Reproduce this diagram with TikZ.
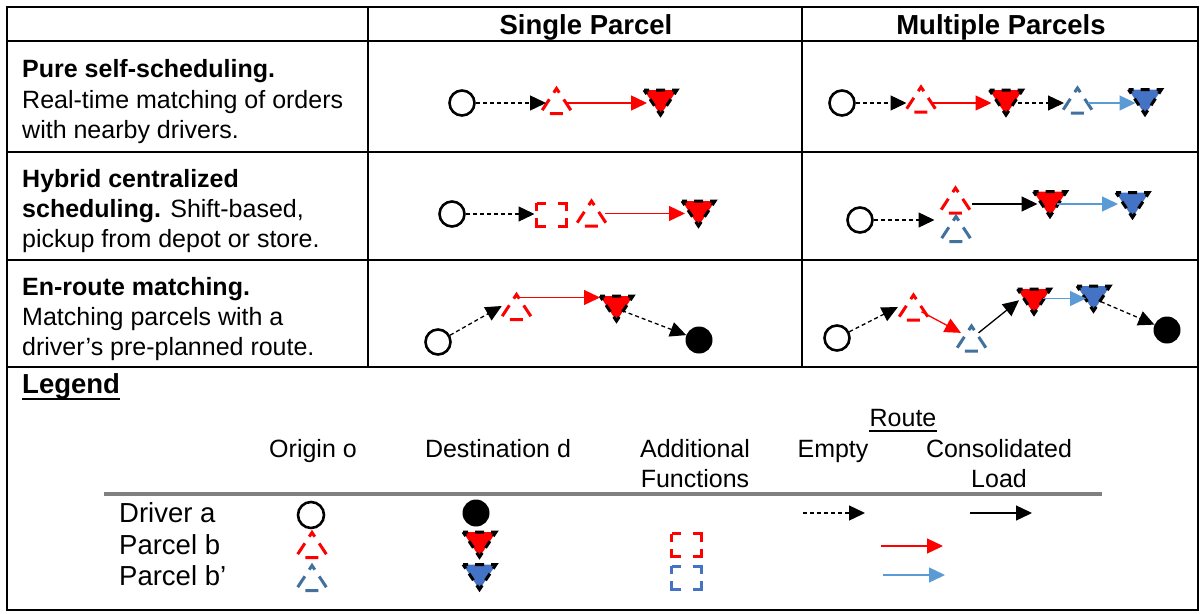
\documentclass[tikz,border=0pt]{standalone}
\usepackage{fontspec}
\setmainfont{Liberation Sans}
\usetikzlibrary{arrows.meta,calc}

\definecolor{pred}{RGB}{255,0,0}
\definecolor{pbluefill}{RGB}{68,114,196}
\definecolor{pblueline}{RGB}{65,113,156}
\definecolor{pbluearrow}{RGB}{91,155,213}
\definecolor{rulegray}{RGB}{128,128,128}

\tikzset{
  grid/.style={line width=2.5pt},
  body/.style={font=\fontsize{25}{30}\selectfont, inner sep=0pt, anchor=base west},
  legtxt/.style={font=\fontsize{25}{30}\selectfont, inner sep=0pt, anchor=base},
  rowtxt/.style={font=\fontsize{27.5}{32}\selectfont, inner sep=0pt, anchor=base west},
  headtxt/.style={font=\fontsize{27.5}{32}\selectfont\bfseries, inner sep=0pt, anchor=base},
  box/.style={inner sep=0pt, outer sep=0pt, minimum width=33pt, minimum height=25pt},
  fnbox/.style={inner sep=0pt, outer sep=0pt, minimum width=30pt, minimum height=23pt},
  drv/.style={circle, draw, line width=2.6pt, inner sep=0pt, minimum size=25pt},
  dst/.style={circle, fill, inner sep=0pt, minimum size=27pt},
  pickupline/.style={line width=3pt, dash pattern=on 13pt off 8pt on 10pt off 8pt on 13pt off 14pt on 13pt off 14pt, dash phase=89pt},
  dropline/.style={draw=black, line width=3pt, dash pattern=on 5pt off 7pt on 9pt off 7pt on 10pt off 6pt on 8pt off 6pt on 10pt off 6pt on 8pt off 6pt on 5pt},
  fnline/.style={line width=3pt, dash pattern=on 9pt off 12pt on 17pt off 7pt on 17pt off 12pt on 17pt off 7pt on 8pt},
  tip/.style={-{Triangle[length=16pt,width=15pt]}},
  empty/.style={tip, black, line width=1.3pt, dash pattern=on 4pt off 3pt},
  load/.style={tip, black, line width=1.3pt},
  redload/.style={tip, pred, line width=1.3pt},
  blueload/.style={tip, pbluearrow, line width=1.3pt},
}

% pickup (hollow dashed triangle), dropoff (filled triangle), depot (dashed box)
\newcommand\pickup[3]{%
  \node[box] (#1) at (#2) {};
  \draw[#3, pickupline] (#1.south west) -- (#1.north) -- (#1.south east) -- cycle;}
\newcommand\dropoff[3]{%
  \node[box] (#1) at (#2) {};
  \draw[fill=#3, dropline] (#1.north west) -- (#1.north east) -- (#1.south) -- cycle;}
\newcommand\depot[3]{%
  \node[fnbox] (#1) at (#2) {};
  \draw[#3, fnline] (#1.north west) -- (#1.north east) -- (#1.south east) -- (#1.south west) -- cycle;}

\begin{document}
\begin{tikzpicture}[x=1pt, y=-1pt]
\useasboundingbox (0,0) rectangle (1204,613);
\fill[white] (0,0) rectangle (1204,613);

% table frame
\draw[grid] (7,7) rectangle (1198,610);
\draw[grid] (368,7) -- (368,367) (802,7) -- (802,367);
\draw[grid] (7,41) -- (1198,41) (7,152) -- (1198,152) (7,260) -- (1198,260) (7,367) -- (1198,367);

% column headers
\node[headtxt] (hsingle) at (586,34) {Single Parcel};
\node[headtxt] (hmulti) at (1001,34) {Multiple Parcels};

% row descriptions
\node[body] (r1a) at (22,77) {\textbf{Pure self-scheduling.}};
\node[body] (r1b) at (22,108) {Real-time matching of orders};
\node[body] (r1c) at (22,138) {with nearby drivers.};
\node[body] (r2a) at (22,187) {\textbf{Hybrid centralized}};
\node[body] (r2b) at (22,217) {\textbf{scheduling.} Shift-based,};
\node[body] (r2c) at (22,247) {pickup from depot or store.};
\node[body] (r3a) at (22,295) {\textbf{En-route matching.}};
\node[body] (r3b) at (22,325) {Matching parcels with a};
\node[body] (r3c) at (22,355) {driver’s pre-planned route.};

% ---- row 1, single parcel
\node[drv] (c1) at (462,103) {};
\pickup{u1}{556.5,101}{pred}
\dropoff{d1}{660.5,102.5}{pred}
\draw[empty, shorten >=-6pt] (c1.east) -- (c1 -| u1.west);
\draw[redload, shorten <=10pt, shorten >=-3pt] (c1 -| u1.center) -- (c1 -| d1.west);

% ---- row 1, multiple parcels
\node[drv] (c2) at (842,103) {};
\pickup{u2}{921,99.5}{pred}
\dropoff{d2}{1006,102.5}{pred}
\pickup{u3}{1077.5,100.5}{pblueline}
\dropoff{d3}{1145,102}{pbluefill}
\draw[empty, shorten >=-2pt] (c2.east) -- (c2 -| u2.west);
\draw[redload, shorten <=12pt, shorten >=-2pt] (c2 -| u2.center) -- (c2 -| d2.west);
\draw[empty, shorten <=12pt, shorten >=-3pt] (c2 -| d2.center) -- (c2 -| u3.west);
\draw[blueload, shorten <=10.5pt, shorten >=-7pt] (c2 -| u3.center) -- (c2 -| d3.west);

% ---- row 2, single parcel
\node[drv] (c4) at (452,214) {};
\depot{s4}{551.5,214.5}{pred}
\pickup{u4}{591.5,213.5}{pred}
\dropoff{d4}{698.5,213.5}{pred}
\draw[empty, shorten >=2pt] (c4.east) -- (c4 -| s4.west);
\draw[redload, shorten <=13.5pt, shorten >=-3pt] (u4.center) -- (d4.west);

% ---- row 2, multiple parcels
\node[drv] (c5) at (860,220) {};
\pickup{u5}{955.5,200.5}{pred}
\pickup{u6}{956,229}{pblueline}
\dropoff{d5}{1050,204}{pred}
\dropoff{d6}{1132.5,205}{pbluefill}
\draw[empty, shorten >=5pt] (c5.east) -- (c5 -| u6.west);
\draw[load, shorten >=-4pt] (u5.east |- d5.center) -- (d5.west);
\draw[blueload, shorten <=7pt, shorten >=-2pt] (d5.center) -- (d5.center -| d6.west);

% ---- row 3, single parcel
\node[drv] (c7) at (438,342) {};
\pickup{u7}{516.5,307}{pred}
\dropoff{d7}{616.5,308.5}{pred}
\node[dst] (f7) at (699,340) {};
\coordinate (r7) at ($(u7.north)!0.12!(u7.south)$);
\draw[empty, shorten >=-2pt] (c7) -- (u7.west);
\draw[redload] (r7) -- (r7 -| d7.west);
\draw[empty, shorten <=6pt] (d7.center) -- (f7);

% ---- row 3, multiple parcels
\node[drv] (c8) at (837,338) {};
\pickup{u8}{913.5,307.5}{pred}
\pickup{u9}{971.5,338.5}{pblueline}
\dropoff{d8}{1034,301.5}{pred}
\dropoff{d9}{1093.5,298.5}{pbluefill}
\node[dst] (f8) at (1167,330) {};
\draw[empty, shorten >=-1pt] (c8) -- (u8.west);
\draw[redload, shorten <=9pt, shorten >=12pt] (u8.center) -- (u9.center);
\draw[load, shorten <=9pt, shorten >=-2pt] (u9.center) -- (d8.west);
\draw[blueload, shorten <=9pt, shorten >=-9pt] (d8.center |- d9.west) -- (d9.west);
\draw[empty, shorten <=8pt] (d9.center) -- (f8);

% ---- legend
\node[headtxt, anchor=base west] (leg) at (22,393) {Legend};
\draw[line width=2.5pt] ([yshift=-6pt]leg.base west) -- ([yshift=-6pt]leg.base east);
\node[legtxt] (lroute) at (903,426) {Route};
\draw[line width=1.8pt] ([yshift=-5pt]lroute.base west) -- ([yshift=-5pt]lroute.base east);
\node[legtxt] (lorig) at (313,457) {Origin o};
\node[legtxt] (ldest) at (498,457) {Destination d};
\node[legtxt] (ladd1) at (695,457) {Additional};
\node[legtxt] (ladd2) at (695,487) {Functions};
\node[legtxt] (lempty) at (833,457) {Empty};
\node[legtxt] (lcons1) at (999,457) {Consolidated};
\node[legtxt] (lcons2) at (999,487) {Load};
\draw[rulegray, line width=3.5pt] (104,494) -- (1102,494);

\node[rowtxt] (ldrv) at (119,522) {Driver a};
\node[rowtxt] (lpb) at (119,554) {Parcel b};
\node[rowtxt] (lpb2) at (119,585) {Parcel b’};

\node[drv, minimum size=26pt] (gc) at (311,515) {};
\node[dst] (gf) at (476,513) {};
\pickup{gu1}{312,545}{pred}
\pickup{gu2}{312,578}{pblueline}
\dropoff{gd1}{479.5,544.5}{pred}
\dropoff{gd2}{479.5,577}{pbluefill}
\depot{gs1}{686.5,545}{pred}
\depot{gs2}{686.5,577.5}{pbluefill}

\coordinate (ge1) at (803,513); \coordinate (ge2) at (865,513);
\coordinate (gl1) at (970,513); \coordinate (gl2) at (1032,513);
\coordinate (gr1) at (881,546); \coordinate (gr2) at (943,546);
\coordinate (gb1) at (883,575); \coordinate (gb2) at (945,575);
\draw[empty] (ge1) -- (ge2);
\draw[load] (gl1) -- (gl2);
\draw[redload] (gr1) -- (gr2);
\draw[blueload] (gb1) -- (gb2);
\end{tikzpicture}
\end{document}
